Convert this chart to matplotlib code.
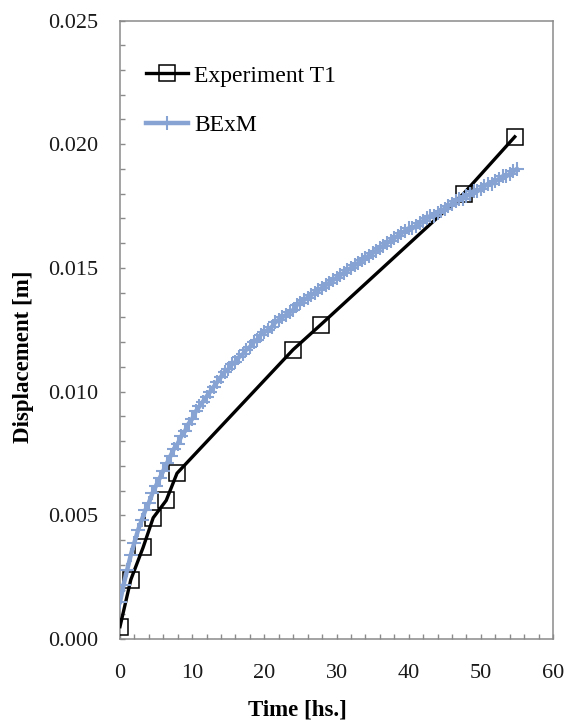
"""Displacement over time: experiment T1 vs BExM model"""

import matplotlib.pyplot as plt
import matplotlib.ticker as ticker

# Experiment T1 measurements
exp_time = [0.0, 1.5, 3.2, 4.6, 6.4, 7.9, 24.0, 27.8, 47.6, 54.7]
exp_disp = [0.0005, 0.0024, 0.0037, 0.0049, 0.0056, 0.0067,
            0.0117, 0.0127, 0.0180, 0.0203]

# BExM model output, every half hour from 0 to 55 h
model_time = [0.5 * i for i in range(111)]
model_disp = [
    0.0015, 0.0022, 0.0028, 0.0034, 0.0039, 0.0044, 0.0048, 0.0052,
    0.0055, 0.0059, 0.0062, 0.0065, 0.0068, 0.0071, 0.0074, 0.0077,
    0.0079, 0.0082, 0.0084, 0.0087, 0.0089, 0.0092, 0.0094, 0.0096,
    0.0098, 0.0100, 0.0102, 0.0104, 0.0106, 0.0108, 0.0109, 0.0111,
    0.0112, 0.0114, 0.0115, 0.0117, 0.0118, 0.0120, 0.0121, 0.0123,
    0.0124, 0.0125, 0.0126, 0.0128, 0.0129, 0.0130, 0.0131, 0.0132,
    0.0133, 0.0135, 0.0136, 0.0137, 0.0138, 0.0139, 0.0140, 0.0141,
    0.0142, 0.0143, 0.0144, 0.0145, 0.0146, 0.0147, 0.0148, 0.0149,
    0.0150, 0.0151, 0.0152, 0.0153, 0.0154, 0.0155, 0.0156, 0.0157,
    0.0158, 0.0159, 0.0160, 0.0161, 0.0162, 0.0163, 0.0164, 0.0165,
    0.0166, 0.0166, 0.0167, 0.0168, 0.0169, 0.0170, 0.0171, 0.0171,
    0.0172, 0.0173, 0.0174, 0.0175, 0.0176, 0.0177, 0.0178, 0.0178,
    0.0179, 0.0180, 0.0181, 0.0181, 0.0182, 0.0183, 0.0184, 0.0184,
    0.0185, 0.0186, 0.0187, 0.0187, 0.0188, 0.0189, 0.0190,
]

plt.rcParams["font.family"] = ["Liberation Serif", "DejaVu Serif"]

fig = plt.figure(figsize=(5.65, 7.2), dpi=100)
ax = fig.add_axes([0.2124, 0.1125, 0.7664, 0.859])

ax.plot(exp_time, exp_disp, color="black", linewidth=2.4, marker="s",
        markersize=11.5, markerfacecolor="none", markeredgecolor="black",
        markeredgewidth=1.1, label="Experiment T1", zorder=3)
ax.plot(model_time, model_disp, color="#87a3d3", linewidth=3.2, marker="+",
        markersize=9.5, markeredgewidth=1.5, label="BExM", zorder=4)

ax.set_xlim(0, 60)
ax.set_ylim(0, 0.025)
ax.xaxis.set_major_locator(ticker.MultipleLocator(10))
ax.xaxis.set_minor_locator(ticker.MultipleLocator(2))
ax.yaxis.set_major_locator(ticker.MultipleLocator(0.005))
ax.yaxis.set_minor_locator(ticker.MultipleLocator(0.001))
ax.yaxis.set_major_formatter(ticker.FormatStrFormatter("%.3f"))

for side in ax.spines.values():
    side.set_color("#8a8a8a")
    side.set_linewidth(1.1)

ax.tick_params(which="both", direction="in", length=3.5, width=1.0,
               color="#8a8a8a", labelsize=16, labelcolor="#1a1a1a")
ax.tick_params(axis="x", which="both", pad=18)
ax.tick_params(axis="y", which="both", pad=16)

ax.set_xlabel("Time [hs.]", fontsize=16.5, fontweight="bold")
ax.set_ylabel("Displacement [m]", fontsize=16.5, fontweight="bold")
ax.xaxis.set_label_coords(0.41, -0.098)
ax.yaxis.set_label_coords(-0.198, 0.456)

ax.legend(loc="upper left", bbox_to_anchor=(0.06, 0.928), frameon=False,
          fontsize=17, handlelength=1.8, handletextpad=0.25,
          labelspacing=1.2, borderpad=0, borderaxespad=0)

fig.savefig("out.png", dpi=100)
